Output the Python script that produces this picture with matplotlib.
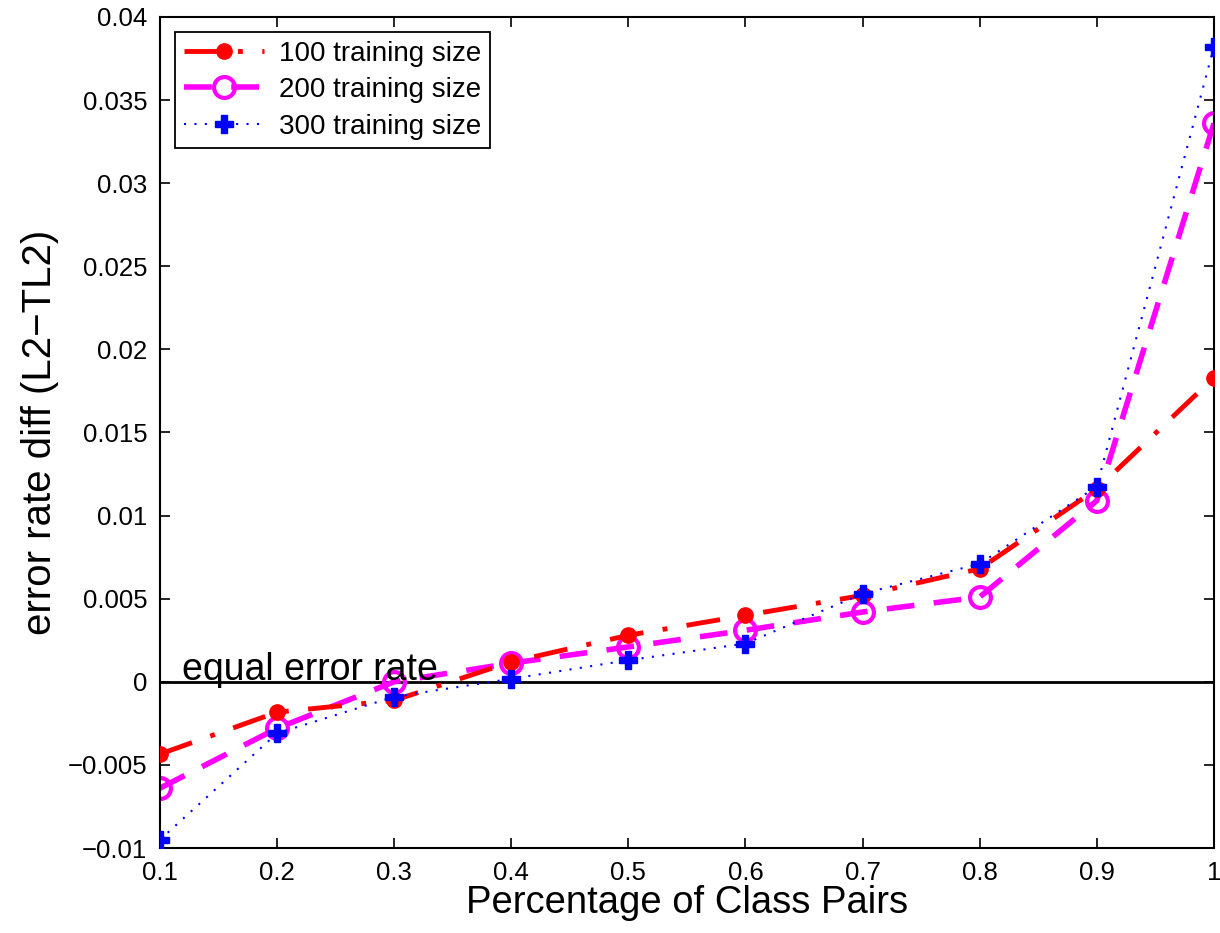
import numpy as np
import matplotlib
matplotlib.use("Agg")
import matplotlib.pyplot as plt

plt.rcParams['font.family'] = ['Liberation Sans', 'DejaVu Sans']

# values
pct_pairs = [0.1, 0.2, 0.3, 0.4, 0.5, 0.6, 0.7, 0.8, 0.9, 1.0]
diff_100 = [-0.00435, -0.00183, -0.00112, 0.0012, 0.0028, 0.0040, 0.0052, 0.0068, 0.0116, 0.0183]
diff_200 = [-0.0064, -0.0028, 0.0000, 0.00112, 0.0021, 0.0031, 0.0042, 0.0051, 0.0109, 0.0336]
diff_300 = [-0.0095, -0.0031, -0.0009, 0.00018, 0.0013, 0.0023, 0.0053, 0.0071, 0.01175, 0.0382]

x_ticks = [0.1, 0.2, 0.3, 0.4, 0.5, 0.6, 0.7, 0.8, 0.9, 1.0]
x_labels = ['0.1', '0.2', '0.3', '0.4', '0.5', '0.6', '0.7', '0.8', '0.9', '1']
y_ticks = [-0.01, -0.005, 0, 0.005, 0.01, 0.015, 0.02, 0.025, 0.03, 0.035, 0.04]
y_labels = ['\u22120.01', '\u22120.005', '0', '0.005', '0.01', '0.015', '0.02',
            '0.025', '0.03', '0.035', '0.04']

fig = plt.figure(figsize=(12.2, 9.33), dpi=100)
ax = fig.add_axes([0.1311, 0.0911, 0.8639, 0.8907])

# equal error rate reference line
ax.plot([0.1, 1.0], [0, 0], color='black', linewidth=2, zorder=1)
ax.text(0.119, 0.0001, 'equal error rate', fontsize=27, va='baseline', ha='left')

ax.plot(pct_pairs, diff_100, color='red', linewidth=3.5, dashes=(7, 4, 1, 4),
        marker='o', markersize=11, markerfacecolor='red', markeredgecolor='red',
        label='100 training size', zorder=3)
ax.plot(pct_pairs, diff_200, color='magenta', linewidth=4, dashes=(5, 3.5),
        marker='o', markersize=15, markerfacecolor='none', markeredgecolor='magenta',
        markeredgewidth=3, label='200 training size', zorder=2)
ax.plot(pct_pairs, diff_300, color='blue', linewidth=1.5, linestyle=(0, (1, 4)),
        marker='P', markersize=13, markerfacecolor='blue', markeredgecolor='blue',
        label='300 training size', zorder=4)

ax.set_xlim(0.1, 1.0)
ax.set_ylim(-0.01, 0.04)
ax.set_xticks(x_ticks)
ax.set_xticklabels(x_labels)
ax.set_yticks(y_ticks)
ax.set_yticklabels(y_labels)
ax.tick_params(direction='in', length=7, width=1.2, labelsize=18.5,
               top=True, right=True, pad=9)
for s in ax.spines.values():
    s.set_linewidth(1.5)

ax.set_xlabel('Percentage of Class Pairs', fontsize=27.5, labelpad=0)
ax.set_ylabel('error rate diff (L2\u2212TL2)', fontsize=29, labelpad=6)

leg = ax.legend(loc='upper left', fontsize=20, frameon=True, fancybox=False,
                framealpha=1, edgecolor='black', handlelength=2.9,
                handletextpad=0.55, borderaxespad=0.55, labelspacing=0.38,
                borderpad=0.3)
leg.get_frame().set_linewidth(1.3)

fig.savefig('out.png', dpi=100)
